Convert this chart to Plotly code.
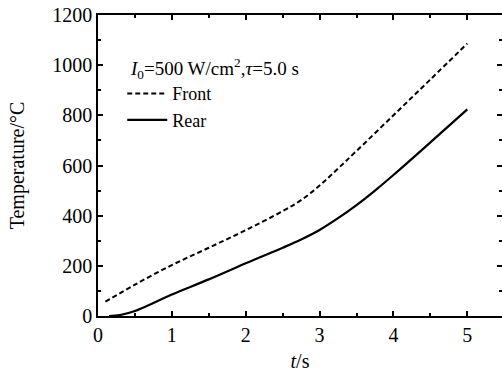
import plotly.graph_objects as go

# Data
t_front = [0.1, 0.5, 1.0, 1.5, 2.0, 2.5, 2.75, 3.0, 3.25, 3.5, 4.0, 4.5, 5.0]
T_front = [57, 125, 203, 272, 342, 418, 462, 520, 588, 658, 800, 943, 1086]

t_rear = [0.15, 0.3, 0.5, 0.75, 1.0, 1.5, 2.0, 2.5, 2.75, 3.0, 3.25, 3.5, 3.75, 4.0, 4.5, 5.0]
T_rear = [0, 4, 20, 52, 86, 146, 210, 272, 305, 343, 390, 442, 500, 562, 692, 824]

x_ticks = [0, 1, 2, 3, 4, 5]
y_ticks = [0, 200, 400, 600, 800, 1000, 1200]

FONT = "Liberation Serif, Times New Roman, serif"
FS = 20

fig = go.Figure()
fig.add_trace(go.Scatter(
    x=t_front, y=T_front, mode="lines", name="Front",
    line=dict(color="black", width=2, dash="5px,3px", shape="spline", smoothing=1),
))
fig.add_trace(go.Scatter(
    x=t_rear, y=T_rear, mode="lines", name="Rear",
    line=dict(color="black", width=2.2, shape="spline", smoothing=1),
))

axis_common = dict(
    showline=True, linecolor="black", linewidth=1.5, mirror="allticks",
    ticks="inside", ticklen=5, tickwidth=1.5, tickcolor="black",
    showgrid=False, zeroline=False, automargin=False,
    tickfont=dict(family=FONT, size=FS, color="black"),
)

fig.update_xaxes(
    range=[0, 5.47], tickvals=x_ticks,
    minor=dict(ticks="inside", ticklen=3, tickwidth=1.5, dtick=0.5, tick0=0, tickcolor="black"),
    title=dict(text="<i>t</i>/s", font=dict(family=FONT, size=FS, color="black"), standoff=9),
    **axis_common,
)
fig.update_yaxes(
    range=[0, 1200], tickvals=y_ticks,
    minor=dict(ticks="inside", ticklen=3, tickwidth=1.5, dtick=100, tick0=0, tickcolor="black"),
    title=dict(text="Temperature/°C", font=dict(family=FONT, size=FS, color="black"), standoff=22),
    **axis_common,
)

fig.add_annotation(
    x=0.40, y=985, xref="x", yref="y", xanchor="left", yanchor="middle",
    text="<i>I</i><sub>0</sub>=500 W/cm<sup>2</sup>,<i>τ</i>=5.0 s",
    showarrow=False, font=dict(family=FONT, size=19, color="black"),
)

fig.update_layout(
    width=502, height=379,
    margin=dict(l=98, r=0, t=15, b=63, autoexpand=False),
    paper_bgcolor="white", plot_bgcolor="white",
    showlegend=True,
    legend=dict(
        x=0.06, y=0.80, xanchor="left", yanchor="top",
        bgcolor="rgba(0,0,0,0)", borderwidth=0,
        font=dict(family=FONT, size=18, color="black"),
        tracegroupgap=0, itemwidth=40,
    ),
    font=dict(family=FONT, size=FS, color="black"),
)

fig.write_html(
    "out.html",
    config={"displayModeBar": False},
    post_script="document.body.style.margin='0';document.body.style.overflow='hidden';",
)
